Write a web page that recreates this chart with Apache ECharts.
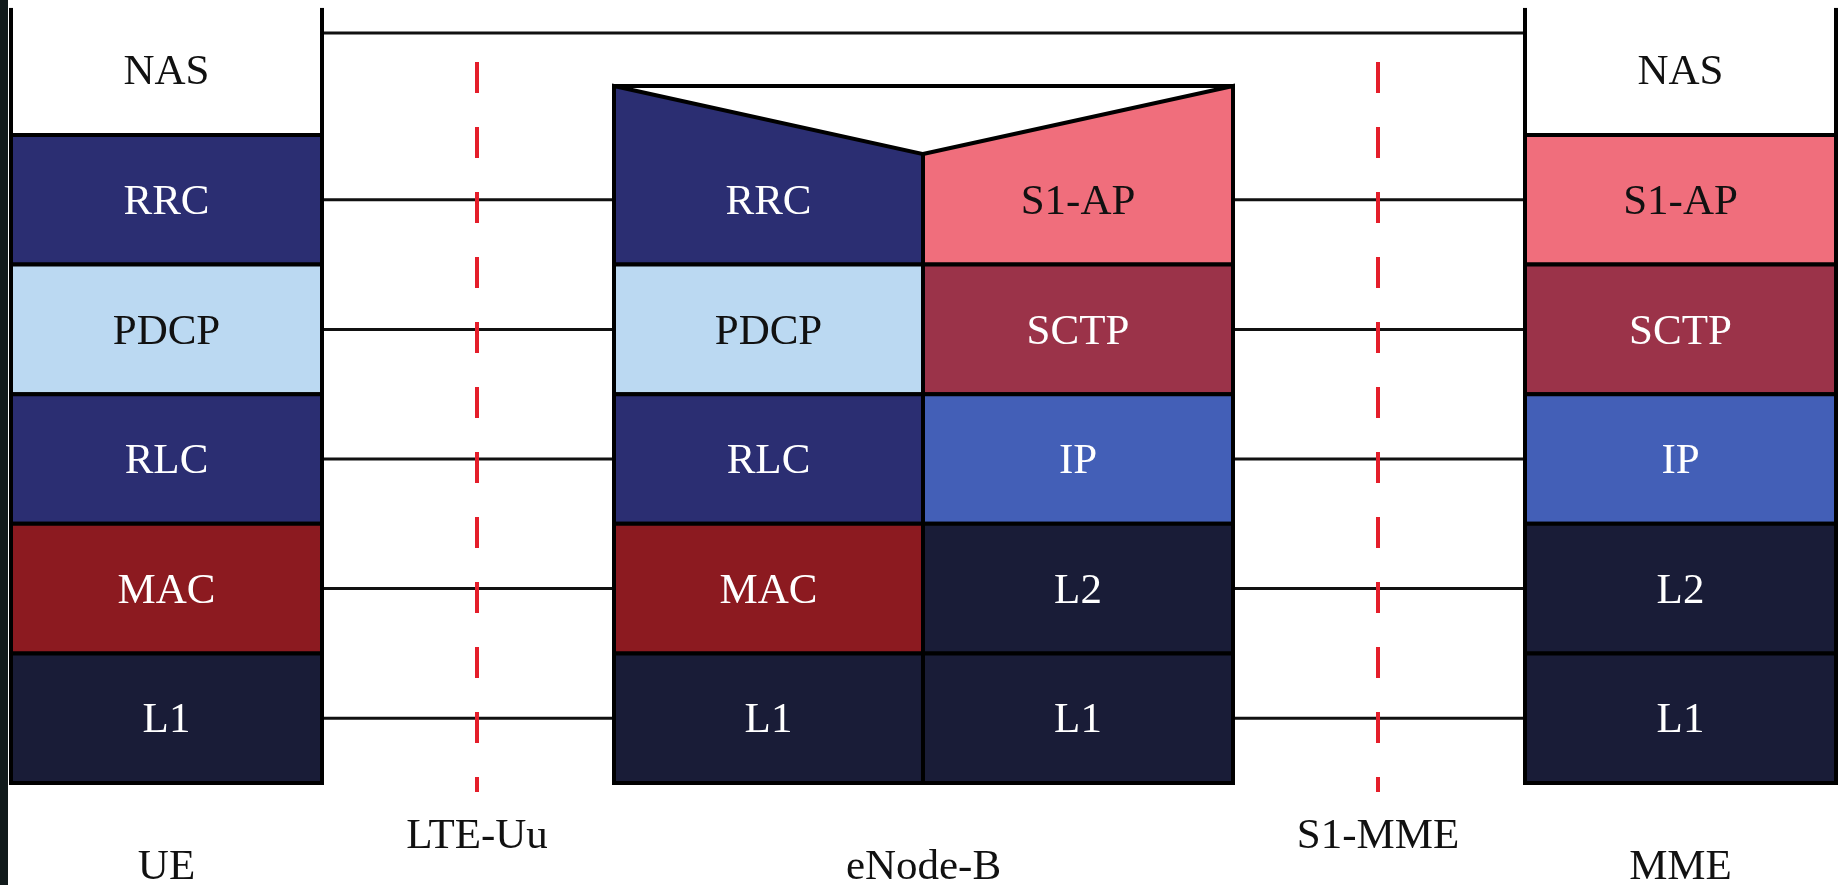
<!DOCTYPE html>
<html>
<head>
<meta charset="utf-8">
<script src="https://cdn.jsdelivr.net/npm/echarts@6/dist/echarts.min.js"></script>
<style>
  html, body { margin: 0; padding: 0; background: #ffffff; }
  #chart { width: 1847px; height: 885px; }
</style>
</head>
<body>
<div id="chart"></div>
<script>
// ---- data ----
const ueStack = ['NAS', 'RRC', 'PDCP', 'RLC', 'MAC', 'L1'];
const enbRadioStack = ['RRC', 'PDCP', 'RLC', 'MAC', 'L1'];
const enbS1Stack = ['S1-AP', 'SCTP', 'IP', 'L2', 'L1'];
const mmeStack = ['NAS', 'S1-AP', 'SCTP', 'IP', 'L2', 'L1'];
const nodeLabels = ['UE', 'eNode-B', 'MME'];
const interfaceLabels = ['LTE-Uu', 'S1-MME'];

// ---- styles / layout ----
const layerFill = {
  'NAS': '#ffffff', 'RRC': '#2b2e72', 'PDCP': '#bbd9f2', 'RLC': '#2b2e72',
  'MAC': '#8c1a20', 'L1': '#191c37', 'L2': '#191c37',
  'S1-AP': '#f06e7c', 'SCTP': '#9b3349', 'IP': '#435fb7'
};
const layerText = {
  'NAS': '#111111', 'PDCP': '#111111', 'S1-AP': '#111111'
};
const col = { ue: [11, 322], enbL: [614, 923], enbR: [923, 1233], mme: [1525, 1836] };
const ifaceX = [477, 1378];
const Y = { colTop: -0.965, nasLink: -0.787, enbTop: -0.378, notch: 0.147,
            dashTop: -0.563, dashBot: 5.07, ifaceLabel: 5.39, nodeLabel: 5.63 };
const FONT = '43px "Liberation Serif", "Times New Roman", serif';
const TEXT_DY = 3;

// ---- build cells ----
const cells = [];
function addStack(stack, c, rowOffset, kindFirst) {
  stack.forEach((name, i) => {
    const row = i + rowOffset;
    let kind = 0;
    if (name === 'NAS') kind = 3;
    if (i === 0 && kindFirst) kind = kindFirst;
    cells.push({ name, value: [c[0], c[1], row, kind] });
  });
}
addStack(ueStack, col.ue, -1, 0);
addStack(enbRadioStack, col.enbL, 0, 1);
addStack(enbS1Stack, col.enbR, 0, 2);
addStack(mmeStack, col.mme, -1, 0);

// ---- link lines ----
const links = [];
enbRadioStack.forEach((n, i) => {
  links.push({ value: [col.ue[1], col.enbL[0], i + 0.5] });
  links.push({ value: [col.enbR[1], col.mme[0], i + 0.5] });
});
links.push({ value: [col.ue[1], col.mme[0], Y.nasLink] });

// frame lines: [x0, y0, x1, y1]
const frames = [
  [col.ue[0], Y.colTop, col.ue[0], 0],
  [col.ue[1], Y.colTop, col.ue[1], 0],
  [col.mme[0], Y.colTop, col.mme[0], 0],
  [col.mme[1], Y.colTop, col.mme[1], 0],
  [col.enbL[0], Y.enbTop, col.enbR[1], Y.enbTop]
];

const labelData = [];
nodeLabels.forEach((t, i) => {
  const c = [col.ue, [col.enbL[0], col.enbR[1]], col.mme][i];
  labelData.push({ name: t, value: [(c[0] + c[1]) / 2, Y.nodeLabel] });
});
interfaceLabels.forEach((t, i) => {
  labelData.push({ name: t, value: [ifaceX[i], Y.ifaceLabel] });
});

const chart = echarts.init(document.getElementById('chart'), null, { renderer: 'canvas' });
chart.setOption({
  backgroundColor: '#ffffff',
  animation: false,
  grid: { left: 0, right: 0, top: 135, bottom: 102 },
  xAxis: { type: 'value', min: 0, max: 1847, show: false },
  yAxis: { type: 'value', min: 0, max: 5, inverse: true, show: false },
  graphic: [{
    type: 'rect', left: 0, top: 0, shape: { width: 8, height: 885 },
    style: { fill: '#111a1b' }, z: 100
  }],
  series: [
    {
      type: 'custom', clip: false, z: 1,
      data: links,
      renderItem: (p, api) => {
        const a = api.coord([api.value(0), api.value(2)]);
        const b = api.coord([api.value(1), api.value(2)]);
        return { type: 'line', shape: { x1: a[0], y1: a[1], x2: b[0], y2: b[1] },
                 style: { stroke: '#111111', lineWidth: 3 } };
      }
    },
    {
      type: 'custom', clip: false, z: 2,
      data: ifaceX.map(x => ({ value: [x, Y.dashTop, Y.dashBot] })),
      renderItem: (p, api) => {
        const a = api.coord([api.value(0), api.value(1)]);
        const b = api.coord([api.value(0), api.value(2)]);
        return { type: 'line', shape: { x1: a[0], y1: a[1], x2: b[0], y2: b[1] },
                 style: { stroke: '#e41e2a', lineWidth: 4, lineDash: [31, 34] } };
      }
    },
    {
      type: 'custom', clip: false, z: 3,
      data: cells,
      renderItem: (p, api) => {
        const x0 = api.value(0), x1 = api.value(1), row = api.value(2), kind = api.value(3);
        const name = cells[p.dataIndex].name;
        const tl = api.coord([x0, row]);
        const br = api.coord([x1, row + 1]);
        const yTop = api.coord([x0, Y.enbTop])[1];
        const yNotch = api.coord([x0, Y.notch])[1];
        let shape;
        const st = { fill: layerFill[name], stroke: '#000000', lineWidth: 4, lineJoin: 'miter' };
        if (kind === 1) {
          shape = { type: 'polygon', shape: { points: [[tl[0], yTop], [br[0], yNotch], [br[0], br[1]], [tl[0], br[1]]] }, style: st };
        } else if (kind === 2) {
          shape = { type: 'polygon', shape: { points: [[tl[0], yNotch], [br[0], yTop], [br[0], br[1]], [tl[0], br[1]]] }, style: st };
        } else if (kind === 3) {
          shape = { type: 'rect', shape: { x: tl[0], y: tl[1], width: br[0] - tl[0], height: br[1] - tl[1] },
                    style: { fill: layerFill[name] } };
        } else {
          shape = { type: 'rect', shape: { x: tl[0], y: tl[1], width: br[0] - tl[0], height: br[1] - tl[1] }, style: st };
        }
        return {
          type: 'group',
          children: [
            shape,
            { type: 'text', z2: 10,
              style: { text: name, x: (tl[0] + br[0]) / 2, y: (tl[1] + br[1]) / 2 + TEXT_DY,
                       align: 'center', verticalAlign: 'middle',
                       font: FONT, fill: layerText[name] || '#ffffff' } }
          ]
        };
      }
    },
    {
      type: 'custom', clip: false, z: 4,
      data: frames.map(f => ({ value: f })),
      renderItem: (p, api) => {
        const a = api.coord([api.value(0), api.value(1)]);
        const b = api.coord([api.value(2), api.value(3)]);
        return { type: 'line', shape: { x1: a[0], y1: a[1], x2: b[0], y2: b[1] },
                 style: { stroke: '#000000', lineWidth: 4, lineCap: 'square' } };
      }
    },
    {
      type: 'custom', clip: false, z: 5,
      data: labelData,
      renderItem: (p, api) => {
        const a = api.coord([api.value(0), api.value(1)]);
        return { type: 'text',
                 style: { text: labelData[p.dataIndex].name, x: a[0], y: a[1] + TEXT_DY,
                          align: 'center', verticalAlign: 'middle',
                          font: FONT, fill: '#111111' } };
      }
    }
  ]
});
</script>
</body>
</html>
